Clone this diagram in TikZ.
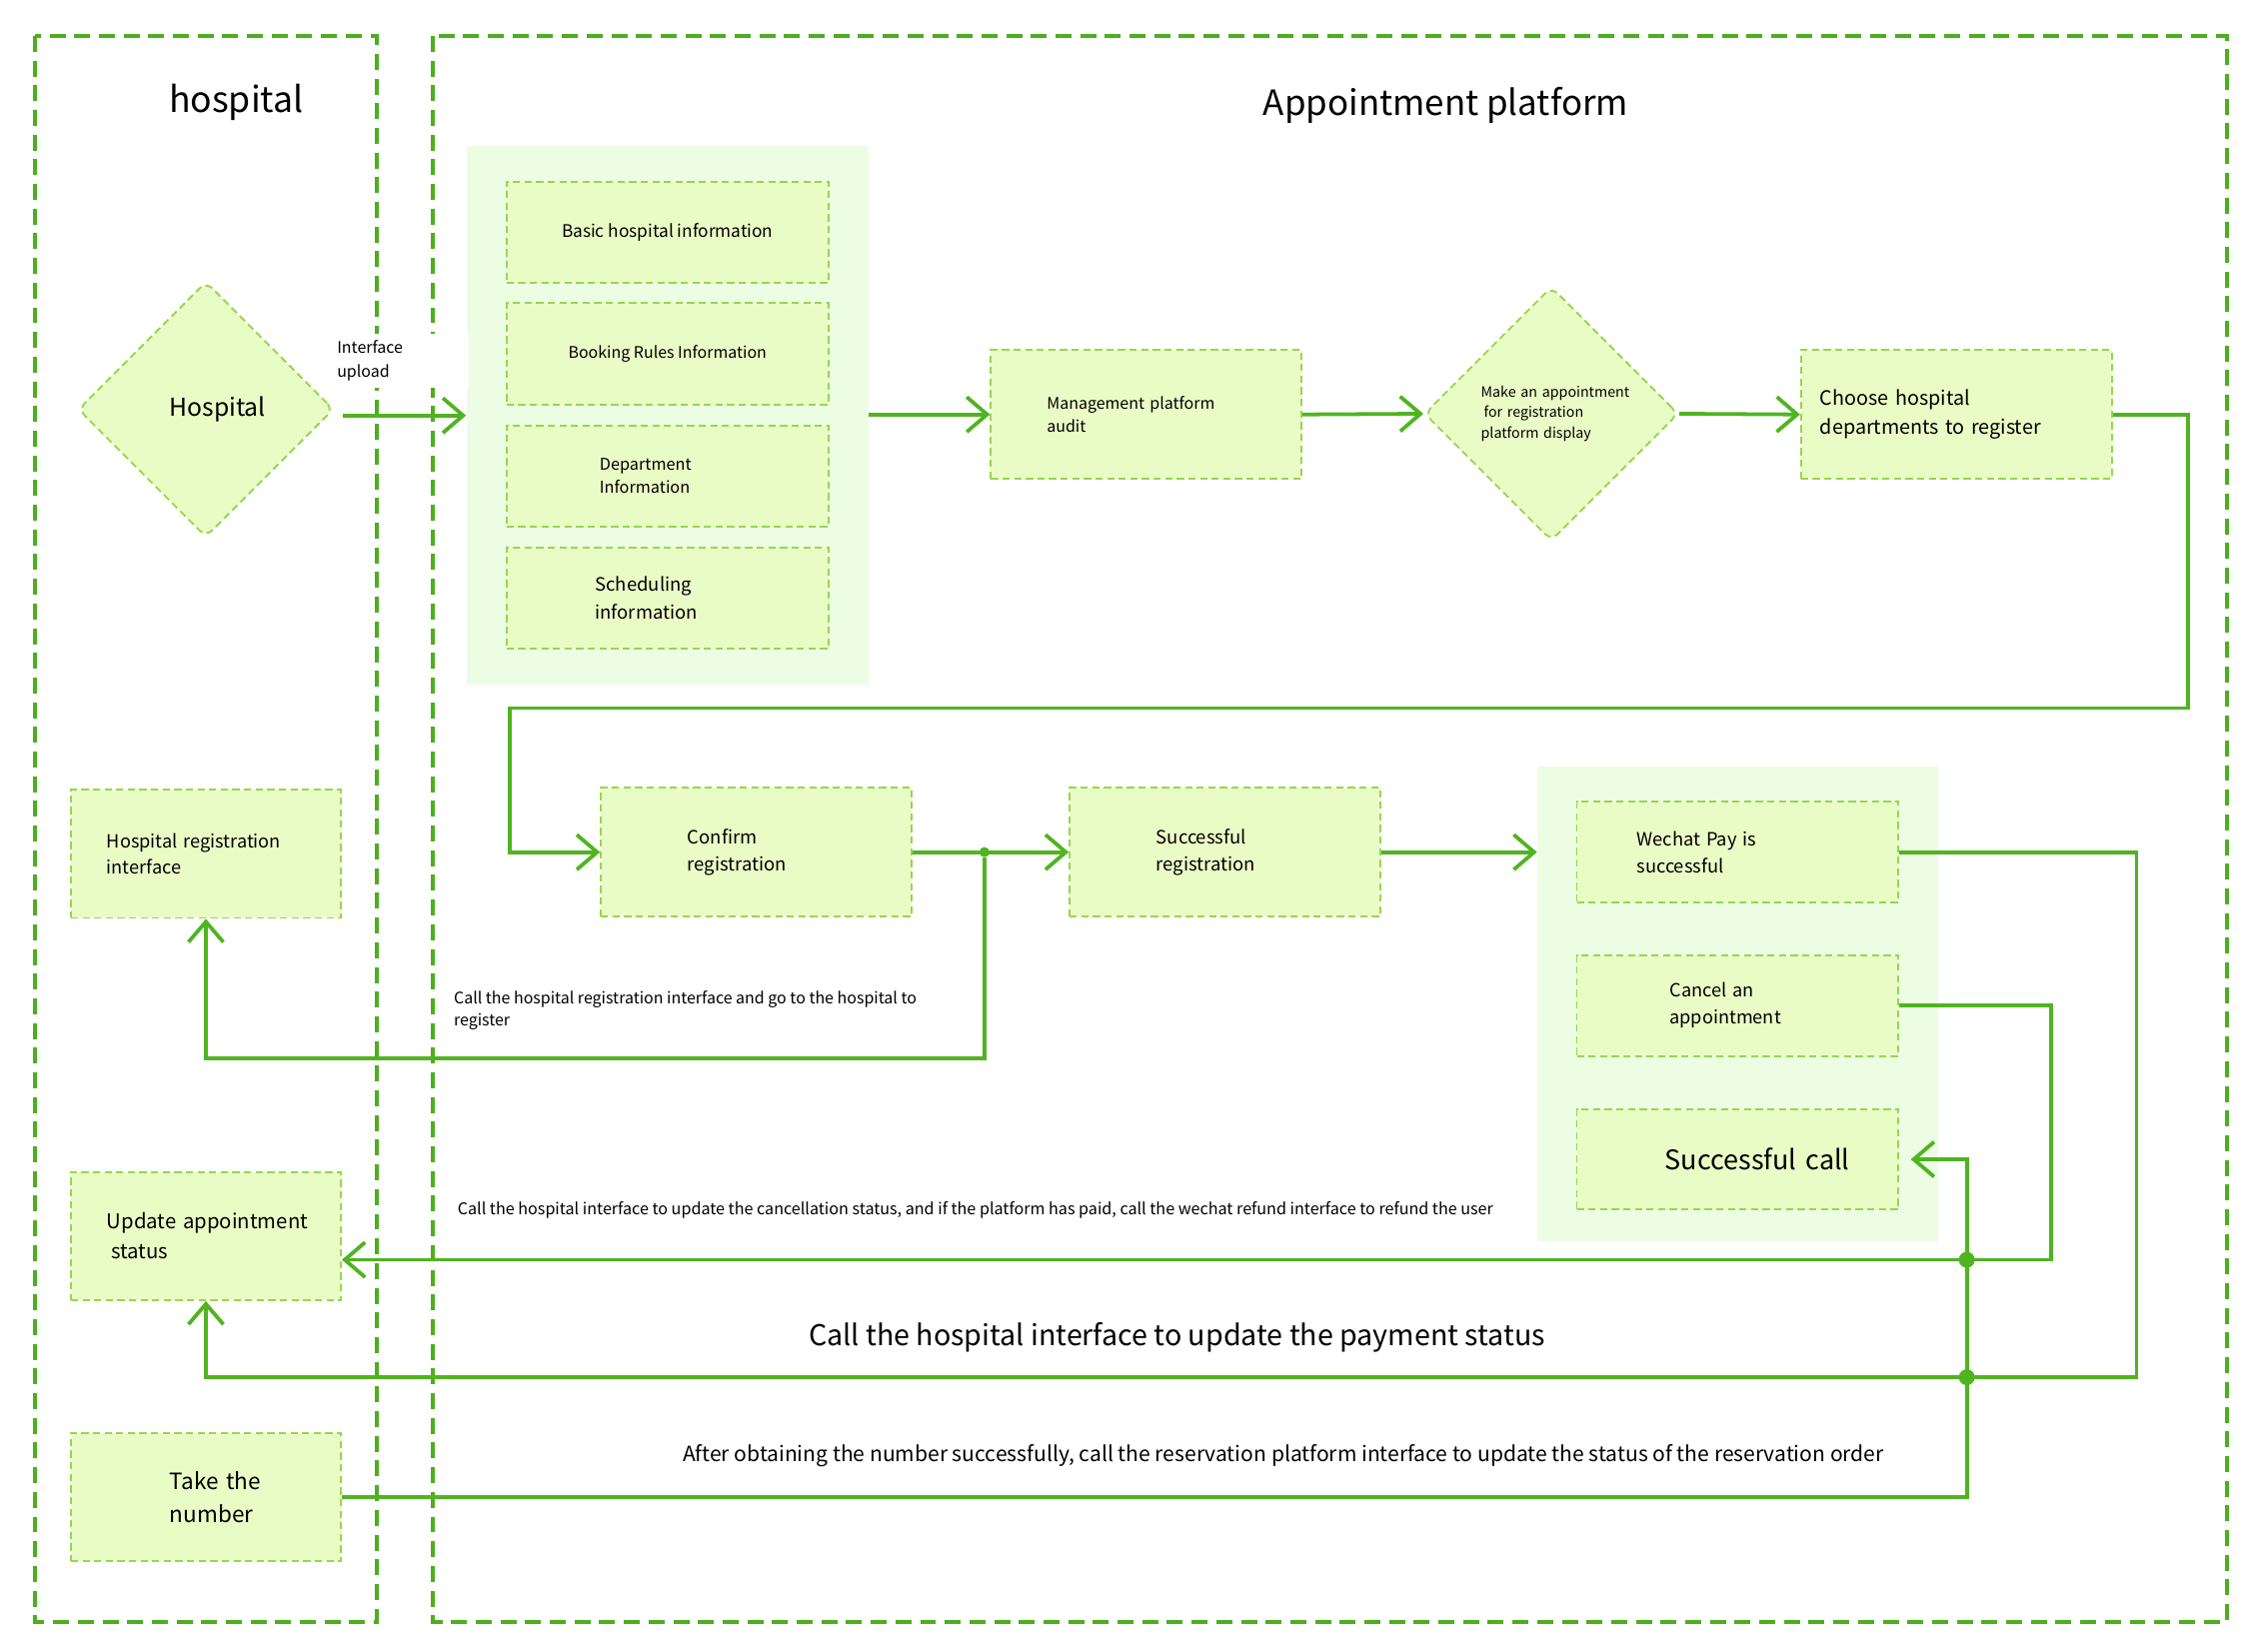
\documentclass[tikz,border=0pt]{standalone}
\usepackage{fontspec}
\newfontfamily\cjk{Noto Sans CJK SC}
\usetikzlibrary{arrows.meta, shapes.geometric, positioning}

\definecolor{lanegreen}{RGB}{76,175,30}
\definecolor{flowgreen}{RGB}{80,180,32}
\definecolor{boxline}{RGB}{150,215,75}
\definecolor{boxfill}{RGB}{234,252,198}
\definecolor{groupfill}{RGB}{236,253,228}

\newcommand{\fsz}[2]{\fontsize{#1}{#2}\selectfont}
\hyphenpenalty=10000
\exhyphenpenalty=10000

\begin{document}
\begin{tikzpicture}[x=1pt, y=-1pt, font=\cjk, >={Straight Barb[length=14pt,width=24pt]},
    lane/.style={draw=lanegreen, line width=2.8pt, dash pattern=on 11pt off 6pt},
    group/.style={fill=groupfill, draw=none, inner sep=0pt, anchor=north west},
    box/.style={draw=boxline, fill=boxfill, line width=1.3pt, dash pattern=on 5pt off 3pt, inner sep=0pt},
    infobox/.style={box, minimum width=221.8, minimum height=69.8},
    stepbox/.style={box, minimum width=214, minimum height=88.5},
    lanebox/.style={box, minimum width=186, minimum height=88.2},
    paybox/.style={box, minimum width=221.4, minimum height=69.4},
    choice/.style={box, diamond, aspect=1, minimum width=176, minimum height=176, rounded corners=6pt},
    flow/.style={draw=flowgreen, line width=2.6pt},
    note/.style={anchor=west, inner sep=0pt, align=left},
    jdot/.style={circle, fill=flowgreen, inner sep=0pt, minimum size=7pt},
    bigdot/.style={circle, fill=flowgreen, inner sep=0pt, minimum size=11pt}]

\useasboundingbox (0,0) rectangle (1560,1137.3);

% swim lanes
\draw[lane] (23.9,24.7) rectangle (259.7,1117);
\draw[lane] (298,24.7) rectangle (1533.7,1117);

\node[font=\cjk\fsz{24.5}{28}] (hosptitle) at (162.7,70.7) {hospital};
\node[font=\cjk\fsz{24}{28}] (plattitle) at (995.8,72.5) {Appointment platform};

% groups
\node[group, minimum width=277, minimum height=371] (info) at (321,100.5) {};
\node[group, minimum width=276.1, minimum height=327.4] (paygrp) at (1058.6,527.7) {};

% hospital side
\node[choice, text width=82.4, align=right, font=\cjk\fsz{17}{20}] (hosp) at (141.8,282) {Hospital};
\node[lanebox, text width=136.4, align=left, font=\cjk\fsz{12.5}{18.2}] (hreg) at (141.8,588.2) {\mbox{Hospital registration}\\interface};
\node[lanebox, text width=136.4, align=left, font=\cjk\fsz{14}{20.6}] (upd) at (141.8,851.5) {\mbox{Update appointment}\\\hspace*{3pt}status};
\node[lanebox, text width=49.6, align=left, font=\cjk\fsz{15.5}{22.8}] (take) at (141.8,1031.5) {\mbox{Take the}\\number};

% uploaded information
\node[infobox, font=\cjk\fsz{11.9}{16}] (basic) at (459.7,159.9) {Basic hospital information};
\node[infobox, font=\cjk\fsz{11}{16}] (booking) at (459.7,243.8) {Booking Rules Information};
\node[infobox, text width=93.4, align=left, font=\cjk\fsz{11.2}{16}] (dept) at (459.7,327.9) {Department\\Information\\[2pt]};
\node[infobox, text width=99.4, align=left, font=\cjk\fsz{12.7}{19}] (sched) at (459.7,411.9) {Scheduling\\information};

% platform flow
\node[stepbox, text width=137, align=left, font=\cjk\fsz{11}{15.6}] (mgmt) at (789.5,285.5) {Management platform\\audit};
\node[choice, text width=97, align=left, minimum width=175, minimum height=175, font=\cjk\fsz{9.8}{13.8}] (disp) at (1068.5,285) {\mbox{Make an appointment}\\\hspace*{2pt}for registration\\platform display};
\node[stepbox, text width=187.6, align=left, font=\cjk\fsz{13.6}{20.3}] (choose) at (1347.4,285.5) {Choose hospital\\departments to register\\[3pt]};

\node[stepbox, text width=94.6, align=left, font=\cjk\fsz{12.7}{19}] (confirm) at (520.9,587) {Confirm\\registration};
\node[stepbox, text width=94.6, align=left, font=\cjk\fsz{12.7}{19}] (sreg) at (843.7,587) {Successful\\registration};

\node[paybox, text width=138.8, align=left, font=\cjk\fsz{12.6}{19}] (wechat) at (1196.7,587) {Wechat Pay is\\successful};
\node[paybox, text width=93.4, align=left, font=\cjk\fsz{12.5}{18.6}] (cancel) at (1196.7,692.7) {Cancel an\\appointment};
\node[paybox, text width=154.6, align=right, font=\cjk\fsz{18.6}{22}] (scall) at (1196.7,798.6) {Successful call};

% labels
\node[fill=white, anchor=north west, minimum width=94, minimum height=36.6, inner sep=3pt, text width=88, align=left, font=\cjk\fsz{11}{17}] (iface) at (229,230) {Interface\\upload};
\node[note, font=\cjk\fsz{11}{15.6}] (regnote) at (312.4,696) {Call the hospital registration interface and go to the hospital to\\register};
\node[note, font=\cjk\fsz{11.1}{14}] (cancelnote) at (315,833.7) {Call the hospital interface to update the cancellation status, and if the platform has paid, call the wechat refund interface to refund the user};
\node[note, font=\cjk\fsz{19.7}{24}] (paynote) at (557,921) {Call the hospital interface to update the payment status};
\node[note, font=\cjk\fsz{14.5}{18}] (takenote) at (470,1003) {After obtaining the number successfully, call the reservation platform interface to update the status of the reservation order};

% connectors
\draw[flow,->] ([xshift=6]hosp.east |- info.west) -- (info.west);
\draw[flow,->] (info.east |- mgmt.west) -- (mgmt.west);
\draw[flow,->] (mgmt.east) -- (disp.west);
\draw[flow,->] (disp.east) -- (choose.west);

\coordinate (backR) at (1506.8,487.8);
\coordinate (backL) at (351.2,487.8);
\draw[flow,->] (choose.east) -| (backR) -- (backL) |- (confirm.west);

\draw[flow,->] (confirm.east) -- (sreg.west);
\node[jdot] (split) at (678,587) {};
\draw[flow,->] (split) -- ++(0,142) -| (hreg.south);

\draw[flow,->] (sreg.east) -- (sreg.east -| paygrp.west);

\coordinate (payR) at (1471.5,948.7);
\coordinate (cancelR) at (1412.8,867.8);
\coordinate (callR) at (1354.6,798.6);
\draw[flow,->] (wechat.east) -| (payR) -| (upd.south);
\draw[flow,->] (cancel.east) -| (cancelR) -- (cancelR -| upd.east);
\draw[flow,->, shorten >=8pt] (take.east) -| (callR) -- (scall.east);

\node[bigdot] (j1) at (callR |- cancelR) {};
\node[bigdot] (j2) at (callR |- payR) {};

\end{tikzpicture}
\end{document}
